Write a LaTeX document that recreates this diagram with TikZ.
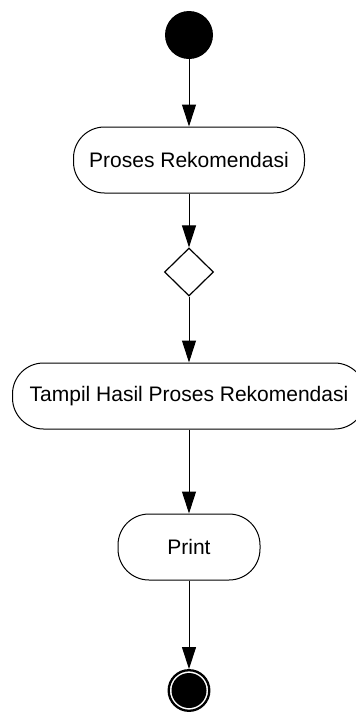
\documentclass[tikz,border=0pt]{standalone}
\usepackage{fontspec}
\setmainfont{Liberation Sans}
\usetikzlibrary{arrows.meta,shapes.geometric}

\tikzset{
  flow/.style={line width=1pt, -{Triangle[length=22pt,width=14pt]}},
  activity/.style={draw, line width=1pt, rounded corners=31pt,
    minimum height=66pt, inner sep=0pt, align=center,
    font=\fontsize{21}{24}\selectfont},
  decision/.style={draw, diamond, line width=1.2pt, inner sep=0pt,
    minimum width=49pt, minimum height=48pt},
  initial/.style={circle, fill=black, inner sep=0pt, minimum size=48pt},
  final/.style={circle, draw, line width=2.3pt, inner sep=0pt, minimum size=40.6pt}
}

\begin{document}
\begin{tikzpicture}[x=1pt,y=1pt]
  \useasboundingbox (0,0) rectangle (356,-716);

  % start and end points
  \node[initial] (start) at (189,-35) {};
  \node[final] (finish) at (189,-690.5) {};
  \fill (finish.center) circle[radius=17.5pt];

  % activities and the branch point
  \node[activity, minimum width=231pt] (rek) at (189,-160) {Proses Rekomendasi};
  \node[decision] (dec) at (189,-272) {};
  \node[activity, minimum width=353pt] (hasil) at (189,-396) {Tampil Hasil Proses Rekomendasi};
  \node[activity, minimum width=142pt] (print) at (189,-547) {Print};

  % control flow
  \draw[flow] (start) -- (rek);
  \draw[flow] (rek) -- (dec);
  \draw[flow] (dec) -- (hasil);
  \draw[flow] (hasil) -- (print);
  \draw[flow] (print) -- (finish);
\end{tikzpicture}
\end{document}
